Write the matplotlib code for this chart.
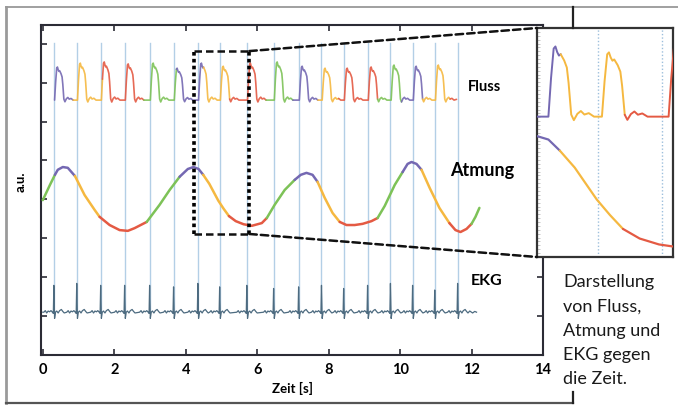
import numpy as np
import matplotlib
matplotlib.use("Agg")
import matplotlib.pyplot as plt
from matplotlib.lines import Line2D
from matplotlib.patches import ConnectionPatch

plt.rcParams['font.family'] = ['Lato', 'DejaVu Sans']

# ---------------- data ----------------
# heart beats (R peaks / blue marker lines), seconds
beat_t = [0.31, 0.95, 1.62, 2.29, 2.99, 3.66, 4.34, 4.95, 5.71, 6.46,
          7.16, 7.80, 8.42, 9.09, 9.73, 10.35, 10.97, 11.61]

# respiration phases (colour changes), seconds
phase_t = [0.0, 0.30, 0.88, 1.68, 2.90, 3.75, 4.50, 5.22, 6.25, 7.02,
           7.68, 8.30, 9.37, 10.05, 10.62, 11.38, 12.0]
phase_c = ['g', 'p', 'y', 'r', 'g', 'p', 'y', 'r', 'g', 'p',
           'y', 'r', 'g', 'p', 'y', 'r', 'g']

# Atmung (respiration) curve
breath_t = [0.00, 0.20, 0.34, 0.42, 0.56, 0.70, 0.90, 1.17, 1.45, 1.59,
            1.87, 2.15, 2.38, 2.57, 2.91, 3.27, 3.55, 3.83, 4.06, 4.22,
            4.36, 4.49, 4.66, 4.91, 5.06, 5.21, 5.40, 5.62, 5.85,
            6.13, 6.27, 6.49,
            6.77, 7.05, 7.22, 7.38, 7.55, 7.69, 7.89, 8.11, 8.31, 8.50,
            8.73, 8.95, 9.20, 9.37, 9.57, 9.85, 10.07, 10.21, 10.32, 10.46,
            10.60, 10.83, 11.10, 11.38, 11.55, 11.69, 11.86, 12.00, 12.11, 12.22]
breath_y = [3.98, 4.37, 4.63, 4.76, 4.83, 4.81, 4.60, 4.11, 3.73, 3.55,
            3.34, 3.21, 3.19, 3.26, 3.42, 3.86, 4.24, 4.58, 4.78, 4.83,
            4.78, 4.63, 4.40, 3.97, 3.76, 3.57, 3.44, 3.36, 3.32,
            3.39, 3.52, 3.86,
            4.24, 4.50, 4.63, 4.68, 4.63, 4.45, 4.04, 3.65, 3.42, 3.34,
            3.34, 3.37, 3.44, 3.52, 3.83, 4.37, 4.70, 4.91, 4.96, 4.91,
            4.76, 4.29, 3.78, 3.39, 3.21, 3.16, 3.24, 3.37, 3.55, 3.78]

# Fluss (flow): baseline, one pulse per beat
flow_base = 6.55
flow_end = 11.58
flow_amp = [0.85, 0.95, 0.98, 0.93, 0.95, 0.82, 0.95, 0.87, 0.95, 0.98,
            0.87, 0.82, 0.82, 0.85, 0.90, 0.87, 0.90]
pulse_dt = [0.00, 0.03, 0.06, 0.08, 0.10, 0.12, 0.14, 0.18, 0.21, 0.23,
            0.26, 0.29, 0.33, 0.37, 0.41, 0.46, 0.52]
pulse_v = [0.00, 0.55, 0.97, 1.00, 0.92, 0.87, 0.89, 0.80, 0.70, 0.48,
           0.03, -0.05, 0.04, 0.08, 0.03, 0.05, 0.00]

# EKG
ecg_base = 1.10
ecg_end = 12.14
ecg_r = [0.69, 0.74, 0.69, 0.69, 0.69, 0.65, 0.74, 0.65, 0.69, 0.61,
         0.65, 0.69, 0.61, 0.69, 0.74, 0.69, 0.57, 0.74]
ecg_dt = [-0.28, -0.24, -0.20, -0.16, -0.12, -0.08, -0.04, -0.015, 0.0,
          0.02, 0.045, 0.08, 0.12, 0.16, 0.21, 0.25, 0.29]
ecg_v = [0.00, 0.04, -0.02, 0.03, 0.01, 0.04, 0.00, -0.03, None,
         -0.16, 0.00, 0.03, -0.02, 0.04, 0.07, 0.02, -0.02]
ecg_tail_t = [11.95, 12.03, 12.09, 12.14]
ecg_tail_v = [0.03, -0.02, 0.02, 0.00]

# zoom window
zoom_x = (4.23, 5.78)
zoom_box_y = (3.11, 7.81)
inset_ylim = (4.65, 7.75)
inset_breath_shift = 1.46
inset_marks = [4.92, 5.66]

xticks = [0, 2, 4, 6, 8, 10, 12, 14]
yticks = [1, 2, 3, 4, 5, 6, 7, 8]

caption = ["Darstellung", "von Fluss,", "Atmung und", "EKG gegen", "die Zeit."]

colors = {'p': '#7468b2', 'y': '#f5b840', 'r': '#e45a43', 'g': '#7dc257'}

# ---------------- build series ----------------
flow_t, flow_y = [], []
for bt, a in zip(beat_t, flow_amp):
    on = bt + 0.02
    for dt, v in zip(pulse_dt, pulse_v):
        flow_t.append(on + dt)
        flow_y.append(flow_base + v * a)
flow_t.append(flow_end)
flow_y.append(flow_base + 0.02)

ecg_t, ecg_y = [0.0], [ecg_base]
for bt, r in zip(beat_t, ecg_r):
    for dt, v in zip(ecg_dt, ecg_v):
        ecg_t.append(bt + dt)
        ecg_y.append(ecg_base + (r if v is None else v))
for t, v in zip(ecg_tail_t, ecg_tail_v):
    ecg_t.append(t)
    ecg_y.append(ecg_base + v)


def colored_line(ax, t, y, lw, alpha=1.0):
    t = np.asarray(t, float)
    y = np.asarray(y, float)
    mid = (t[:-1] + t[1:]) / 2
    ph = np.searchsorted(phase_t, mid, side='right') - 1
    start = 0
    n = len(ph)
    for i in range(1, n + 1):
        if i == n or ph[i] != ph[start]:
            ax.plot(t[start:i + 1], y[start:i + 1], color=colors[phase_c[ph[start]]],
                    lw=lw, alpha=alpha, solid_capstyle='round', solid_joinstyle='round',
                    zorder=3)
            start = i


# ---------------- figure ----------------
W, H = 678, 405
fig = plt.figure(figsize=(W / 100, H / 100), dpi=100)


def fx(px):
    return px / W


def fy(py):
    return 1 - py / H


ax = fig.add_axes([fx(41), fy(355), fx(543) - fx(41), fy(25) - fy(355)])
ax.set_xlim(-0.05, 14)
ax.set_ylim(0, 8.48)

# blue beat lines
for bt in beat_t:
    ax.plot([bt, bt], [ecg_base, 8.02], color='#b3cfe6', lw=1.0, zorder=1)

colored_line(ax, flow_t, flow_y, lw=1.2, alpha=0.9)
colored_line(ax, breath_t, breath_y, lw=1.8)
ax.plot(ecg_t, ecg_y, color='#4d6b80', lw=0.9, zorder=3)

ax.text(12.36, 6.89, "Fluss", fontsize=10.5, fontweight='bold', ha='center', va='center')
ax.text(12.30, 4.75, "Atmung", fontsize=13, fontweight='bold', ha='center', va='center')
ax.text(12.42, 1.90, "EKG", fontsize=11.5, fontweight='bold', ha='center', va='center')

ax.set_xticks(xticks)
ax.set_xticklabels([str(v) for v in xticks], fontweight='bold', fontsize=10.5)
ax.set_yticks(yticks)
ax.set_yticklabels([])
ax.tick_params(direction='in', length=4, width=1.2, top=True, right=True,
               color='#2b2b35', pad=6)
for s in ax.spines.values():
    s.set_color('#2b2b35')
    s.set_linewidth(1.5)
ax.set_xlabel("Zeit [s]", fontweight='bold', fontsize=9.5, labelpad=3)
ax.text(-0.04, 0.524, "a.u.", transform=ax.transAxes, rotation=90, fontweight='bold',
        fontsize=9.5, ha='center', va='center')

# zoom box
ax.plot([zoom_x[0], zoom_x[0]], zoom_box_y, color='black', lw=2.6,
        linestyle=(0, (1.0, 0.9)), dash_capstyle='butt', zorder=5)
ax.plot([zoom_x[1], zoom_x[1]], zoom_box_y, color='black', lw=2.6,
        linestyle=(0, (1.0, 0.9)), dash_capstyle='butt', zorder=5)
for yb in zoom_box_y:
    ax.plot(zoom_x, [yb, yb], color='#111111', lw=1.8,
            linestyle=(0, (3, 1.6)), zorder=5)

# inset
axi = fig.add_axes([fx(537), fy(257), fx(673) - fx(537), fy(28) - fy(257)])
axi.set_facecolor('white')
axi.set_xlim(*zoom_x)
axi.set_ylim(*inset_ylim)
for m in inset_marks:
    axi.axvline(m, color='#9dbfdc', lw=1.0, linestyle=(0, (1, 1.5)), zorder=1)
colored_line(axi, flow_t, flow_y, lw=1.4)
colored_line(axi, breath_t, np.asarray(breath_y) + inset_breath_shift, lw=1.6)
axi.set_xticks([])
axi.set_yticks(np.linspace(inset_ylim[0], inset_ylim[1], 60))
axi.set_yticklabels([])
axi.tick_params(axis='y', direction='in', length=2, width=0.6, color='#bbbbbb')
for s in axi.spines.values():
    s.set_color('#333333')
    s.set_linewidth(1.6)

for yb, yc in [(zoom_box_y[1], 1), (zoom_box_y[0], 0)]:
    cp = ConnectionPatch(xyA=(zoom_x[1], yb), coordsA=ax.transData,
                         xyB=(0, yc), coordsB=axi.transAxes,
                         color='#111111', lw=1.8, linestyle=(0, (3, 1.6)), zorder=6)
    fig.add_artist(cp)

# outer frame
def fline(x0, y0, x1, y1, c, lw):
    fig.add_artist(Line2D([fx(x0), fx(x1)], [fy(y0), fy(y1)], color=c, lw=lw,
                          transform=fig.transFigure))

fline(6, 7, 678, 7, '#a0a0a0', 1.4)
fline(6, 7, 6, 403, '#9a9a9a', 2.0)
fline(6, 403, 573, 403, '#555555', 1.6)
fline(573, 7, 573, 28, '#222222', 1.6)
fline(573, 392, 573, 403, '#222222', 1.6)

# caption
for line, base in zip(caption, [287, 312, 336, 360, 384]):
    fig.text(fx(563), fy(base), line, fontsize=13, ha='left', va='baseline',
             color='#1a1a1a')

fig.savefig("out.png", dpi=100)
